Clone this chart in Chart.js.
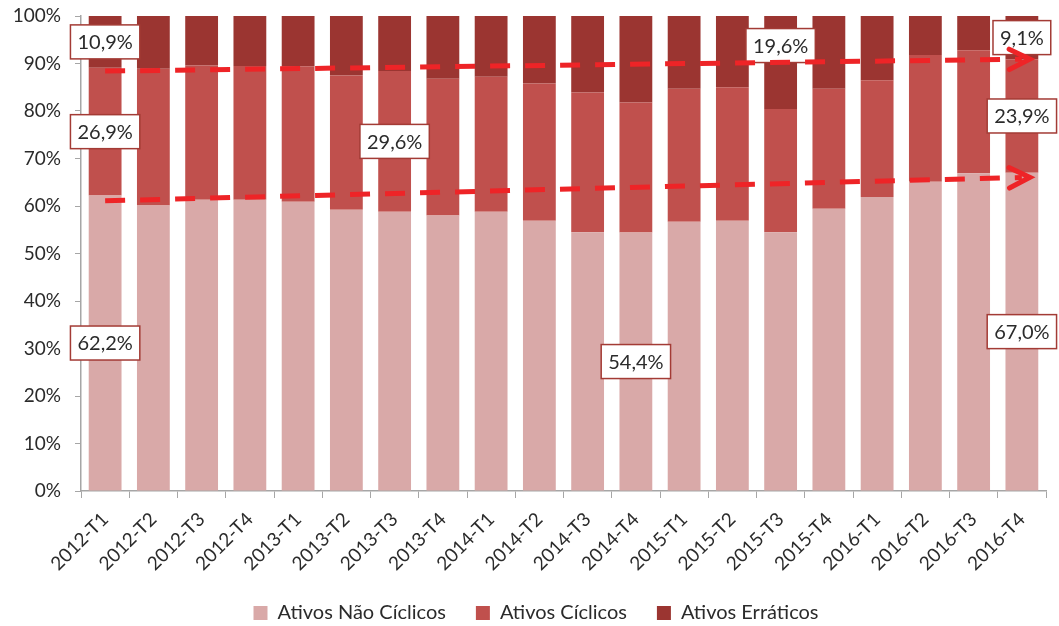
<!DOCTYPE html>
<html>
<head>
<meta charset="utf-8">
<script src="https://cdn.jsdelivr.net/npm/chart.js@4/dist/chart.umd.min.js"></script>
<style>
  html, body { margin: 0; padding: 0; background: #fff; }
  #wrap { width: 1059px; height: 626px; }
</style>
</head>
<body>
<div id="wrap"><canvas id="mixChart" width="1059" height="626"></canvas></div>
<script>
const quarters = ['2012-T1', '2012-T2', '2012-T3', '2012-T4', '2013-T1', '2013-T2', '2013-T3', '2013-T4',
    '2014-T1', '2014-T2', '2014-T3', '2014-T4', '2015-T1', '2015-T2', '2015-T3', '2015-T4',
    '2016-T1', '2016-T2', '2016-T3', '2016-T4'];
const naoCiclicos = [62.2, 60.1, 61.3, 61.3, 60.9, 59.2, 58.8, 58.0, 58.8, 56.9, 54.5, 54.4, 56.7, 56.9, 54.5, 59.4, 61.9, 65.1, 66.9, 67.0];
const ciclicos = [26.9, 28.8, 28.3, 28.2, 28.5, 28.3, 29.6, 28.8, 28.4, 28.9, 29.4, 27.4, 28.0, 28.1, 25.9, 25.3, 24.6, 26.7, 25.9, 23.9];
const erraticos = [10.9, 11.1, 10.4, 10.5, 10.6, 12.5, 11.6, 13.2, 12.8, 14.2, 16.1, 18.2, 15.3, 15.0, 19.6, 15.3, 13.5, 8.2, 7.2, 9.1];
const yTicks = [0, 10, 20, 30, 40, 50, 60, 70, 80, 90, 100];
// trend arrows: start and end value (first and last quarter)
const trendLow = [61.1, 66.0];
const trendHigh = [88.4, 90.9];

// which segments get a value box: [dataset, quarter]
const boxed = [[2, 0], [1, 0], [0, 0], [1, 6], [0, 11], [2, 14], [2, 19], [1, 19], [0, 19]];

const FONT = 'Lato, "Open Sans", sans-serif';
const TXT = '#2b2b2b';
const AXIS = '#a6a6a6';

function trendSeries(ends) {
    const d = quarters.map(() => null);
    d[0] = ends[0];
    d[d.length - 1] = ends[1];
    return d;
}

const valueBoxes = {
    id: 'valueBoxes',
    afterDatasetDraw(chart, args) {
        if (args.index !== 0) return;
        const ctx = chart.ctx;
        ctx.save();
        ctx.font = '20px ' + FONT;
        ctx.textAlign = 'center';
        ctx.textBaseline = 'middle';
        boxed.forEach(([ds, i]) => {
            const bar = chart.getDatasetMeta(ds).data[i];
            const v = chart.data.datasets[ds].data[i];
            const txt = v.toFixed(1).replace('.', ',') + '%';
            let cy = (bar.y + bar.base) / 2;
            if (ds === 2 && i === 14) cy -= 17;
            const w = ctx.measureText(txt).width + 14;
            const h = 34;
            ctx.fillStyle = '#fff';
            ctx.fillRect(bar.x - w / 2, cy - h / 2, w, h);
            ctx.strokeStyle = '#a33b35';
            ctx.lineWidth = 1.5;
            ctx.strokeRect(bar.x - w / 2, cy - h / 2, w, h);
            ctx.fillStyle = TXT;
            ctx.fillText(txt, bar.x, cy + 1);
        });
        ctx.restore();
    },
    afterDatasetsDraw(chart) {
        const ctx = chart.ctx;
        ctx.save();
        ctx.strokeStyle = '#ee2427';
        ctx.lineWidth = 5;
        ctx.lineCap = 'round';
        [3, 4].forEach(ds => {
            const pts = chart.getDatasetMeta(ds).data;
            const a = pts[0], b = pts[pts.length - 1];
            const ang = Math.atan2(b.y - a.y, b.x - a.x);
            const tx = b.x + 8 * Math.cos(ang), ty = b.y + 8 * Math.sin(ang);
            const len = 23, spread = 0.46;
            ctx.beginPath();
            ctx.moveTo(tx - len * Math.cos(ang - spread), ty - len * Math.sin(ang - spread));
            ctx.lineTo(tx, ty);
            ctx.lineTo(tx - len * Math.cos(ang + spread), ty - len * Math.sin(ang + spread));
            ctx.stroke();
        });
        ctx.restore();
    }
};

const barStyle = { categoryPercentage: 1, barPercentage: 0.68, order: 1, borderWidth: 0 };
const lineStyle = {
    type: 'line', yAxisID: 'yt', order: 0, spanGaps: true, borderColor: '#ee2427',
    borderWidth: 5, borderDash: [20, 15], pointRadius: 0, fill: false, tension: 0
};

new Chart(document.getElementById('mixChart'), {
    type: 'bar',
    data: {
        labels: quarters,
        datasets: [
            { label: 'Ativos Não Cíclicos', data: naoCiclicos, backgroundColor: '#d9a9a8', ...barStyle },
            { label: 'Ativos Cíclicos', data: ciclicos, backgroundColor: '#c0504d', ...barStyle },
            { label: 'Ativos Erráticos', data: erraticos, backgroundColor: '#9b3531', ...barStyle },
            { label: 'trendLow', data: trendSeries(trendLow), ...lineStyle },
            { label: 'trendHigh', data: trendSeries(trendHigh), ...lineStyle }
        ]
    },
    options: {
        responsive: false,
        animation: false,
        layout: { padding: { top: 16, right: 0, left: 13, bottom: -7 } },
        plugins: {
            legend: {
                position: 'bottom',
                labels: {
                    boxWidth: 14, boxHeight: 14, padding: 30, color: TXT,
                    font: { family: FONT, size: 20 },
                    filter: item => item.datasetIndex < 3
                }
            },
            tooltip: { enabled: false }
        },
        scales: {
            x: {
                stacked: true,
                grid: { drawOnChartArea: false, tickLength: 7, color: AXIS, offset: true },
                border: { color: AXIS, width: 1.5 },
                ticks: { minRotation: 45, maxRotation: 45, color: TXT, padding: 10, font: { family: FONT, size: 19 } },
                afterFit: s => { s.height = 82; }
            },
            y: {
                stacked: true,
                min: 0,
                max: 100,
                afterBuildTicks: s => { s.ticks = yTicks.map(v => ({ value: v })); },
                grid: { drawOnChartArea: false, tickLength: 6, color: AXIS },
                border: { color: AXIS, width: 1.5 },
                ticks: { color: TXT, padding: 14, font: { family: FONT, size: 19, lineHeight: 0.1 }, callback: v => v + '%' },
                afterFit: s => { s.width = 68; }
            },
            yt: { display: false, min: 0, max: 100 },
            // empty strip that keeps the plot clear of the right edge
            yr: {
                position: 'right', display: true, min: 0, max: 100,
                grid: { display: false }, border: { display: false }, ticks: { display: false },
                afterFit: s => { s.width = 13; }
            }
        }
    },
    plugins: [valueBoxes]
});
</script>
</body>
</html>
